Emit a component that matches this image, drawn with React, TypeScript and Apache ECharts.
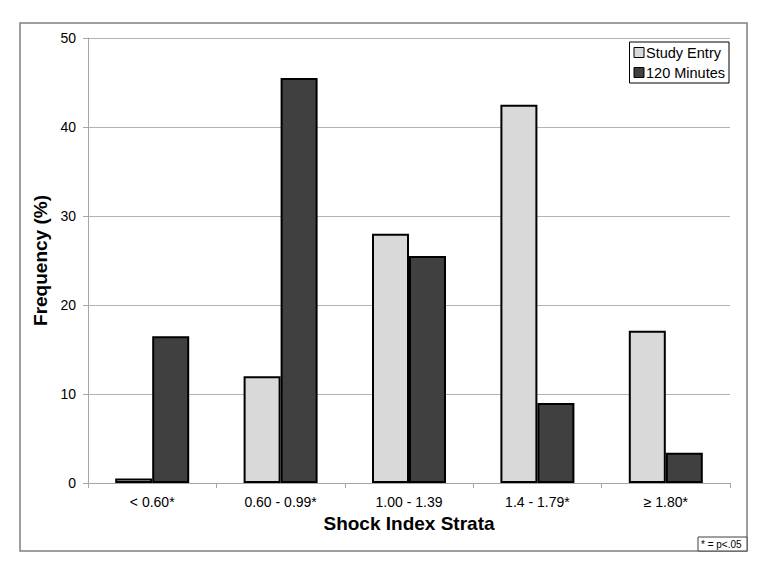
import React, { useEffect, useRef } from "react";
import * as echarts from "echarts";

const categories = ["< 0.60*", "0.60 - 0.99*", "1.00 - 1.39", "1.4 - 1.79*", "≥ 1.80*"];
const studyEntry = [0.5, 12, 28, 42.5, 17.1];
const minutes120 = [16.5, 45.5, 25.5, 9, 3.4];
const seriesNames = ["Study Entry", "120 Minutes"];

export default function App() {
  const ref = useRef<HTMLDivElement>(null);
  useEffect(() => {
    const chart = echarts.init(ref.current!, null, { renderer: "svg" });
    const font = "'Liberation Sans', Arial, sans-serif";
    chart.setOption({
      animation: false,
      backgroundColor: "#fff",
      textStyle: { fontFamily: font },
      grid: { left: 88, right: 37, top: 38, bottom: 92 },
      legend: {
        right: 38,
        top: 42,
        orient: "vertical",
        itemWidth: 10,
        itemHeight: 10,
        itemGap: 5,
        padding: [3, 4, 3, 4],
        borderColor: "#000",
        borderWidth: 1,
        icon: "rect",
        itemStyle: { borderColor: "#000", borderWidth: 1 },
        textStyle: { fontFamily: font, fontSize: 14.5, color: "#000", padding: [0, 0, 0, -3] },
        data: seriesNames,
      },
      xAxis: {
        type: "category",
        data: categories,
        name: "Shock Index Strata",
        nameLocation: "middle",
        nameGap: 21,
        nameTextStyle: { fontFamily: font, fontSize: 19, fontWeight: "bold", color: "#000" },
        axisLine: { lineStyle: { color: "#a6a6a6", width: 1 } },
        axisTick: { show: true, length: 5, lineStyle: { color: "#a6a6a6" } },
        axisLabel: { fontFamily: font, fontSize: 14, color: "#000", margin: 12 },
      },
      yAxis: {
        type: "value",
        min: 0,
        max: 50,
        interval: 10,
        name: "Frequency (%)",
        nameLocation: "middle",
        nameGap: 30,
        nameTextStyle: { fontFamily: font, fontSize: 19, fontWeight: "bold", color: "#000" },
        axisLine: { show: true, lineStyle: { color: "#a6a6a6", width: 1 } },
        axisTick: { show: true, length: 5, lineStyle: { color: "#a6a6a6" } },
        axisLabel: { fontFamily: font, fontSize: 14, color: "#000", margin: 12 },
        splitLine: { lineStyle: { color: "#b3b3b3", width: 1 } },
      },
      series: [
        {
          name: seriesNames[0],
          type: "bar",
          data: studyEntry,
          barWidth: 37,
          barGap: "0%",
          itemStyle: { color: "#d9d9d9", borderColor: "#000", borderWidth: 2 },
        },
        {
          name: seriesNames[1],
          type: "bar",
          data: minutes120,
          barWidth: 37,
          barGap: "0%",
          itemStyle: { color: "#404040", borderColor: "#000", borderWidth: 2 },
        },
      ],
      graphic: [
        {
          type: "rect",
          shape: { x: 20, y: 23, width: 727, height: 528 },
          style: { fill: "none", stroke: "#808080", lineWidth: 1.5 },
          silent: true,
        },
        {
          type: "rect",
          shape: { x: 698, y: 537, width: 49, height: 14 },
          style: { fill: "#fff", stroke: "#404040", lineWidth: 1 },
          silent: true,
        },
        {
          type: "text",
          x: 701,
          y: 539,
          style: { text: "* = p<.05", fontFamily: font, fontSize: 10, fill: "#000" },
          silent: true,
        },
      ],
    });
    return () => chart.dispose();
  }, []);
  return (
    <div
      ref={ref}
      style={{ position: "absolute", left: 0, top: 0, width: 767, height: 575 }}
    />
  );
}
